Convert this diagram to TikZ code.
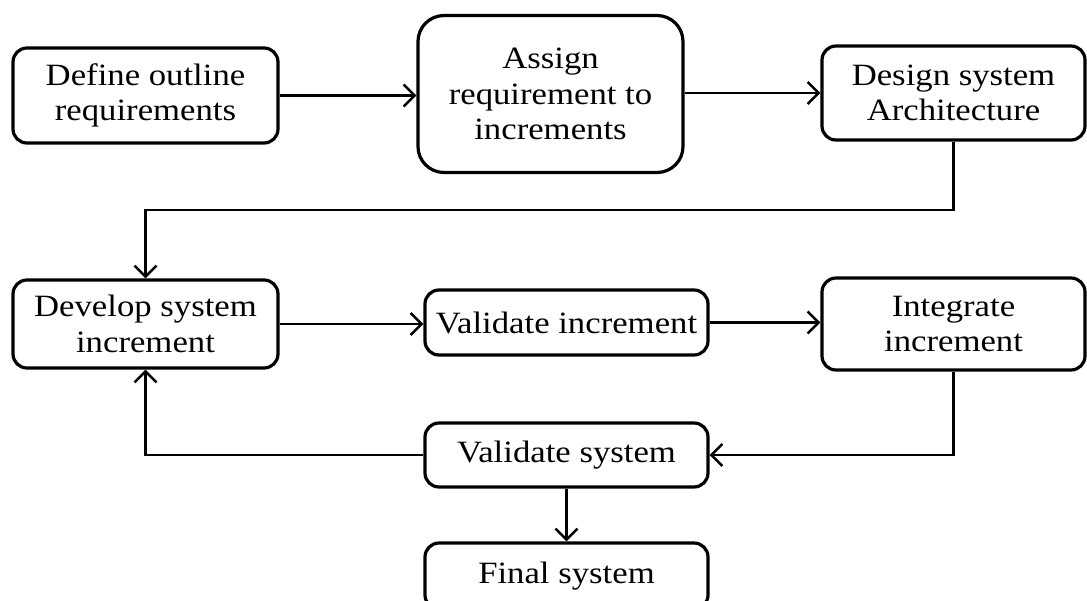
\documentclass[tikz,border=0pt]{standalone}
\usepackage{fontspec}
\setmainfont{Liberation Serif}[FakeStretch=1.12]
\usetikzlibrary{arrows.meta}
\begin{document}
\begin{tikzpicture}[x=1pt,y=-1pt,
  box/.style={draw, line width=3.2pt, rounded corners=14pt, align=center, inner sep=0pt,
    font=\fontsize{31}{35.5}\selectfont},
  conn/.style={line width=2.5pt, -{Straight Barb[length=11pt,width=22pt,line width=2.5pt]}},
]
\useasboundingbox (0,0) rectangle (1087,600);
\clip (0,0) rectangle (1087,600);
\node[box, minimum width=265pt, minimum height=95pt] (n1) at (145.5,95.5) {Define outline\\requirements};
\node[box, minimum width=265pt, minimum height=157pt, rounded corners=26pt] (n2) at (550.5,94) {Assign\\requirement to\\increments};
\node[box, minimum width=263pt, minimum height=94pt] (n3) at (953.5,93) {Design system\\Architecture};
\node[box, minimum width=265pt, minimum height=88pt] (n4) at (145.5,324) {Develop system\\increment};
\node[box, minimum width=283pt, minimum height=65pt] (n5) at (566.5,322.5) {Validate increment};
\node[box, minimum width=263pt, minimum height=92pt] (n6) at (953.5,324) {Integrate\\increment};
\node[box, minimum width=283pt, minimum height=64pt] (n7) at (566.5,455) {Validate system};
\node[box, minimum width=283pt, minimum height=66pt] (n8) at (566.5,576) {Final system};
\coordinate (t1) at (0,210);
\draw[conn] (n1.east) -- (n2.west |- n1.east);
\draw[conn] (n2.east |- n3.west) -- (n3.west);
\draw[conn] (n3.south) -- (n3.south |- t1) -| (n4.north);
\draw[conn] (n4.east) -- (n5.west |- n4.east);
\draw[conn] (n5.east) -- (n6.west |- n5.east);
\draw[conn] (n6.south) |- (n7.east);
\draw[conn] (n7.west) -| (n4.south);
\draw[conn] (n7.south) -- (n8.north);
\end{tikzpicture}
\end{document}
